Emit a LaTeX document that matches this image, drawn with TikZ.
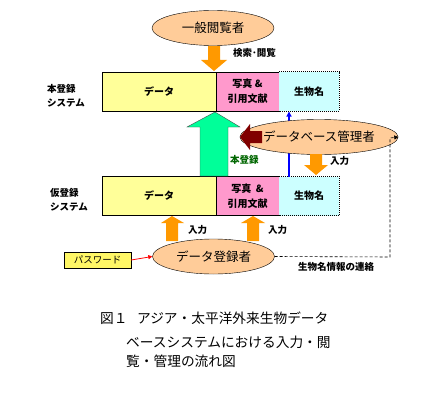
\documentclass[tikz,border=0pt]{standalone}
\usepackage{fontspec}
\setmainfont{Noto Sans CJK JP}
\newfontfamily\cjk{Noto Sans CJK JP}
\usetikzlibrary{shapes.geometric,arrows.meta}
\definecolor{peach}{HTML}{FFCC99}
\definecolor{ylw}{HTML}{FFFF99}
\definecolor{pnk}{HTML}{FF99CC}
\definecolor{cyn}{HTML}{CCFFFF}
\definecolor{orng}{HTML}{FF9900}
\definecolor{grn}{HTML}{00FF99}
\definecolor{maroon}{HTML}{800000}
\definecolor{dgreen}{HTML}{006600}
\tikzset{
  actor/.style={ellipse,draw=black,fill=peach,minimum width=122pt,minimum height=35pt,inner sep=0pt,font=\fontsize{12.5}{14}\selectfont},
  databox/.style={draw=black,fill=ylw,minimum height=39pt,inner sep=0pt,font=\bfseries\fontsize{10}{12}\selectfont},
  refbox/.style={draw=black,fill=pnk,minimum height=39pt,inner sep=0pt,align=center,font=\bfseries\fontsize{10}{15}\selectfont},
  namebox/.style={fill=cyn,minimum height=39pt,inner sep=0pt,font=\bfseries\fontsize{10}{12}\selectfont},
  syslabel/.style={align=left,inner sep=0pt,font=\bfseries\fontsize{9.5}{14}\selectfont},
  lbl/.style={inner sep=0pt,font=\bfseries\fontsize{9.5}{11}\selectfont},
  blockarrow/.style={fill=orng},
  captxt/.style={inner sep=0pt,anchor=west,font=\fontsize{13.7}{15}\selectfont}
}
\begin{document}
\begin{tikzpicture}[x=1pt,y=-1pt]
\useasboundingbox (0,0) rectangle (425,401);
% top system
\node[databox,minimum width=114pt] (d1) at (159,91.5) {データ};
\node[refbox,minimum width=63pt] (r1) at (247.5,91.5) {写真 \&\\引用文献};
\node[namebox,minimum width=60pt] (n1) at (309,91.5) {生物名};
\draw[densely dotted,line width=1pt] (n1.north west) -- (n1.north east) -- (n1.south east) -- (n1.south west);
\node[syslabel] (s1) at (66,96) {本登録\\システム};
% bottom system
\node[databox,minimum width=114pt] (d2) at (159,196) {データ};
\node[refbox,minimum width=63pt] (r2) at (247.5,196) {写真 \ \&\\引用文献};
\node[namebox,minimum width=60pt] (n2) at (309,196) {生物名};
\draw[densely dotted,line width=1pt] (n2.north west) -- (n2.north east) -- (n2.south east) -- (n2.south west);
\node[syslabel] (s2) at (69,200) {仮登録\\システム};
% blue arrow
\coordinate (bb) at (289,176.5);
\coordinate (bt) at (289,111.5);
\draw[blue,line width=1.2pt,-{Triangle[width=5pt,length=5pt]}] (bb) -- (bt);
% actors
\node[actor] (e1) at (213,28) {一般閲覧者};
\node[actor] (e2) at (319,137) {データベース管理者};
\node[actor] (e3) at (213.5,256.5) {データ登録者};
% top orange down arrow
\fill[blockarrow] (208,46) -- (220,46) -- (220,60) -- (227,60) -- (214,71) -- (201,60) -- (208,60) -- cycle;
\node[lbl,anchor=west] (l1) at (233,53) {検索･閲覧};
% green up arrow
\filldraw[fill=grn,draw=black!70,line width=0.4pt] (215,112) -- (240,127) -- (228,127) -- (228,176) -- (200,176) -- (200,127) -- (187,127) -- cycle;
\node[lbl,anchor=west,text=dgreen] (l2) at (230,160) {本登録};
% maroon left arrow
\fill[maroon] (240,137) -- (250,124) -- (250,131) -- (262,131) -- (262,143) -- (250,143) -- (250,150) -- cycle;
% orange down arrow to name box
\fill[blockarrow] (310,154) -- (322,154) -- (322,165) -- (328,165) -- (316,175) -- (304,165) -- (310,165) -- cycle;
\node[lbl,anchor=west] (l3) at (330,161) {入力};
% orange up arrows
\fill[blockarrow] (166,241) -- (166,223) -- (161,223) -- (172,216) -- (184,223) -- (178,223) -- (178,241) -- cycle;
\node[lbl,anchor=west] (l4) at (188,230) {入力};
\fill[blockarrow] (247,241) -- (247,223) -- (241,223) -- (253,216) -- (265,223) -- (259,223) -- (259,241) -- cycle;
\node[lbl,anchor=west] (l5) at (268,230) {入力};
% password
\node[draw=black,fill=yellow!60,minimum width=67pt,minimum height=16pt,inner sep=0pt,font=\fontsize{9.5}{11}\selectfont] (pw) at (97.5,260) {パスワード};
\draw[red,line width=0.8pt,-{Triangle[width=4pt,length=4pt]}] (pw.east) -- (e3.west);
% dashed feedback
\coordinate (c1) at (390,257);
\coordinate (c2) at (390,138);
\draw[densely dashed,line width=0.6pt,-{Triangle[width=4pt,length=4pt]}] (e3.east) -- (c1) -- (c2) -- (e2.east);
\node[lbl,anchor=west] (l6) at (298,267) {生物名情報の連絡};
% caption
\node[captxt] (t1) at (100,318) {図１\hspace{9.5pt}アジア・太平洋外来生物データ};
\node[captxt] (t2) at (126,342) {ベースシステムにおける入力・閲};
\node[captxt] (t3) at (126,361) {覧・管理の流れ図};
\end{tikzpicture}
\end{document}
